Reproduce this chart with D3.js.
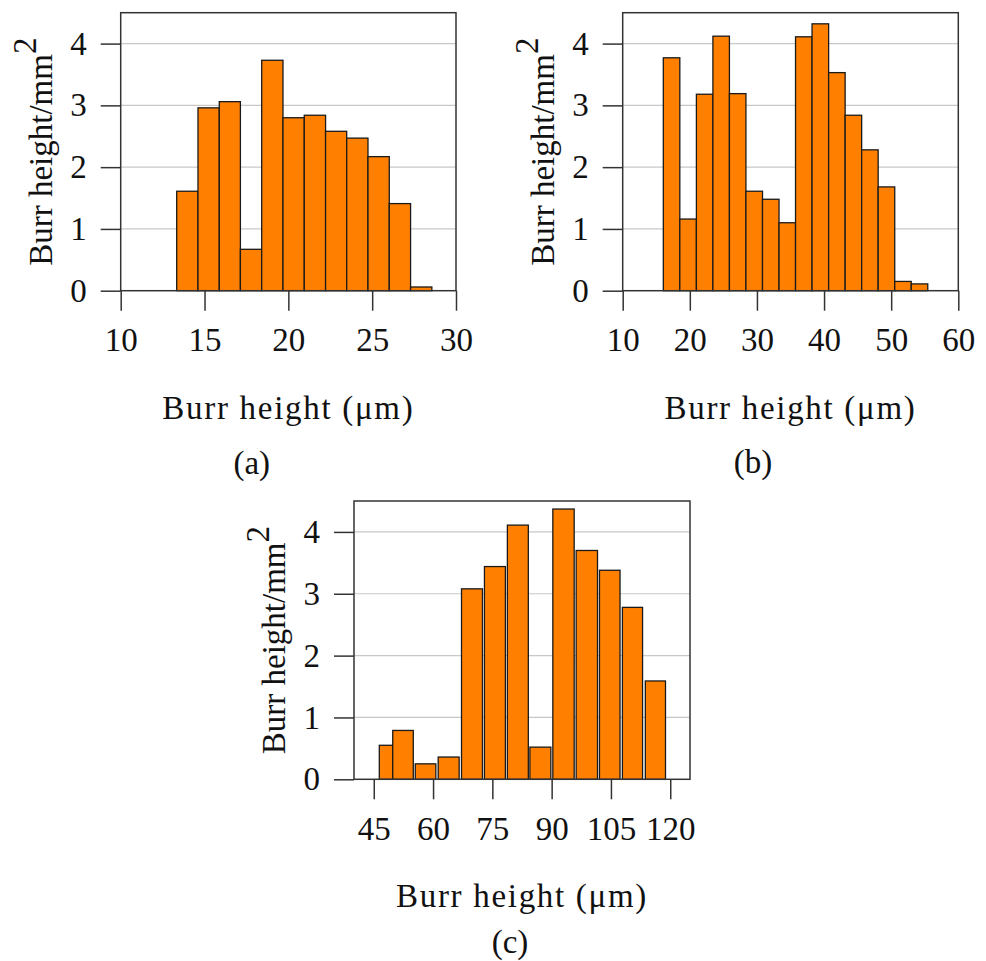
<!DOCTYPE html>
<html>
<head>
<meta charset="utf-8">
<script src="https://cdn.jsdelivr.net/npm/d3@7"></script>
<style>
  body { margin: 0; background: #fff; }
  svg { display: block; }
  text { font-family: "Liberation Serif", "Times New Roman", serif; fill: #111; }
</style>
</head>
<body>
<div id="chart"></div>
<script>
'use strict';

// Panel (a): bin edges and heights
const edgesA = [13.34, 14.61, 15.88, 17.14, 18.41, 19.68, 20.95, 22.22, 23.48, 24.75, 26.02, 27.29, 28.56];
const valuesA = [1.61, 2.96, 3.06, 0.67, 3.73, 2.80, 2.84, 2.58, 2.47, 2.17, 1.41, 0.06];
const xTicksA = [10, 15, 20, 25, 30];

// Panel (b)
const edgesB = [16.05, 18.51, 20.98, 23.44, 25.90, 28.36, 30.83, 33.29, 35.75, 38.21, 40.68, 43.14, 45.60, 48.06, 50.53, 52.99, 55.45];
const valuesB = [3.77, 1.16, 3.18, 4.12, 3.19, 1.61, 1.48, 1.10, 4.11, 4.32, 3.53, 2.84, 2.28, 1.68, 0.15, 0.11];
const xTicksB = [10, 20, 30, 40, 50, 60];

// Panel (c): bars have small gaps, so low/high edges are listed separately
const loC = [46.4, 49.8, 55.5, 61.3, 67.2, 73.0, 78.8, 84.5, 90.3, 96.2, 102.1, 107.9, 113.7];
const hiC = [49.8, 55.0, 60.7, 66.6, 72.5, 78.3, 84.1, 89.8, 95.7, 101.6, 107.3, 113.0, 118.8];
const valuesC = [0.55, 0.79, 0.25, 0.36, 3.08, 3.44, 4.11, 0.52, 4.37, 3.70, 3.38, 2.78, 1.59];
const xTicksC = [45, 60, 75, 90, 105, 120];

const yTicks = [0, 1, 2, 3, 4];
const xTitle = 'Burr height (μm)';
const yTitle = 'Burr height/mm';

const panels = [
  { left: 120.7, top: 12.7, width: 335.3, height: 278, xDomain: [10, 30], ticks: xTicksA,
    bins: valuesA.map((v, i) => ({ x0: edgesA[i], x1: edgesA[i + 1], v })), caption: '(a)', capDx: -36.6, capDy: 183 },
  { left: 622.7, top: 12.7, width: 335.6, height: 278, xDomain: [10, 60], ticks: xTicksB,
    bins: valuesB.map((v, i) => ({ x0: edgesB[i], x1: edgesB[i + 1], v })), caption: '(b)', capDx: -37.5, capDy: 182 },
  { left: 354, top: 501, width: 336, height: 278.3, xDomain: [40, 125], ticks: xTicksC,
    bins: valuesC.map((v, i) => ({ x0: loC[i], x1: hiC[i], v })), caption: '(c)', capDx: -12, capDy: 174 }
];

const svg = d3.select('#chart')
  .append('svg')
  .attr('width', 986)
  .attr('height', 961);

panels.forEach(p => {
  const g = svg.append('g').attr('transform', `translate(${p.left}, ${p.top})`);

  const x = d3.scaleLinear().domain(p.xDomain).range([0, p.width]);
  const y = d3.scaleLinear().domain([0, 4.5]).range([p.height, 0]);

  // grid lines
  g.selectAll('.grid')
    .data(yTicks.filter(t => t > 0))
    .join('line')
    .attr('class', 'grid')
    .attr('x1', 0)
    .attr('x2', p.width)
    .attr('y1', d => y(d))
    .attr('y2', d => y(d))
    .attr('stroke', '#c8c8c8')
    .attr('stroke-width', 1.2);

  // bars
  g.selectAll('.bar')
    .data(p.bins)
    .join('rect')
    .attr('class', 'bar')
    .attr('x', d => x(d.x0))
    .attr('y', d => y(d.v))
    .attr('width', d => x(d.x1) - x(d.x0))
    .attr('height', d => y(0) - y(d.v))
    .attr('fill', '#ff8000')
    .attr('stroke', '#1a1a1a')
    .attr('stroke-width', 1.3);

  // box
  g.append('rect')
    .attr('width', p.width)
    .attr('height', p.height)
    .attr('fill', 'none')
    .attr('stroke', '#333')
    .attr('stroke-width', 1.5);

  // x axis
  g.append('g')
    .attr('transform', `translate(0,${p.height})`)
    .call(d3.axisBottom(x).tickValues(p.ticks).tickFormat(d3.format('d')).tickSize(20).tickPadding(17).tickSizeOuter(0))
    .call(a => a.select('.domain').remove())
    .call(a => a.selectAll('line').attr('stroke', '#333').attr('stroke-width', 1.5))
    .call(a => a.selectAll('text').attr('font-size', 33).attr('font-family', null).attr('fill', '#111'));

  // y axis
  g.append('g')
    .call(d3.axisLeft(y).tickValues(yTicks).tickFormat(d3.format('d')).tickSize(20).tickPadding(14).tickSizeOuter(0))
    .call(a => a.select('.domain').remove())
    .call(a => a.selectAll('line').attr('stroke', '#333').attr('stroke-width', 1.5))
    .call(a => a.selectAll('text').attr('font-size', 33).attr('font-family', null).attr('fill', '#111'));

  // axis titles
  g.append('text')
    .attr('text-anchor', 'middle')
    .attr('x', p.width / 2)
    .attr('y', p.height + 128)
    .attr('font-size', 33)
    .attr('letter-spacing', 1.7)
    .text(xTitle);

  const yt = g.append('text')
    .attr('text-anchor', 'middle')
    .attr('transform', `translate(-69, ${p.height / 2}) rotate(-90)`)
    .attr('font-size', 33);
  yt.append('tspan').text(yTitle);
  yt.append('tspan').attr('dy', -16).text('2');

  // caption
  g.append('text')
    .attr('text-anchor', 'middle')
    .attr('x', p.width / 2 + p.capDx)
    .attr('y', p.height + p.capDy)
    .attr('font-size', 33)
    .text(p.caption);
});
</script>
</body>
</html>
